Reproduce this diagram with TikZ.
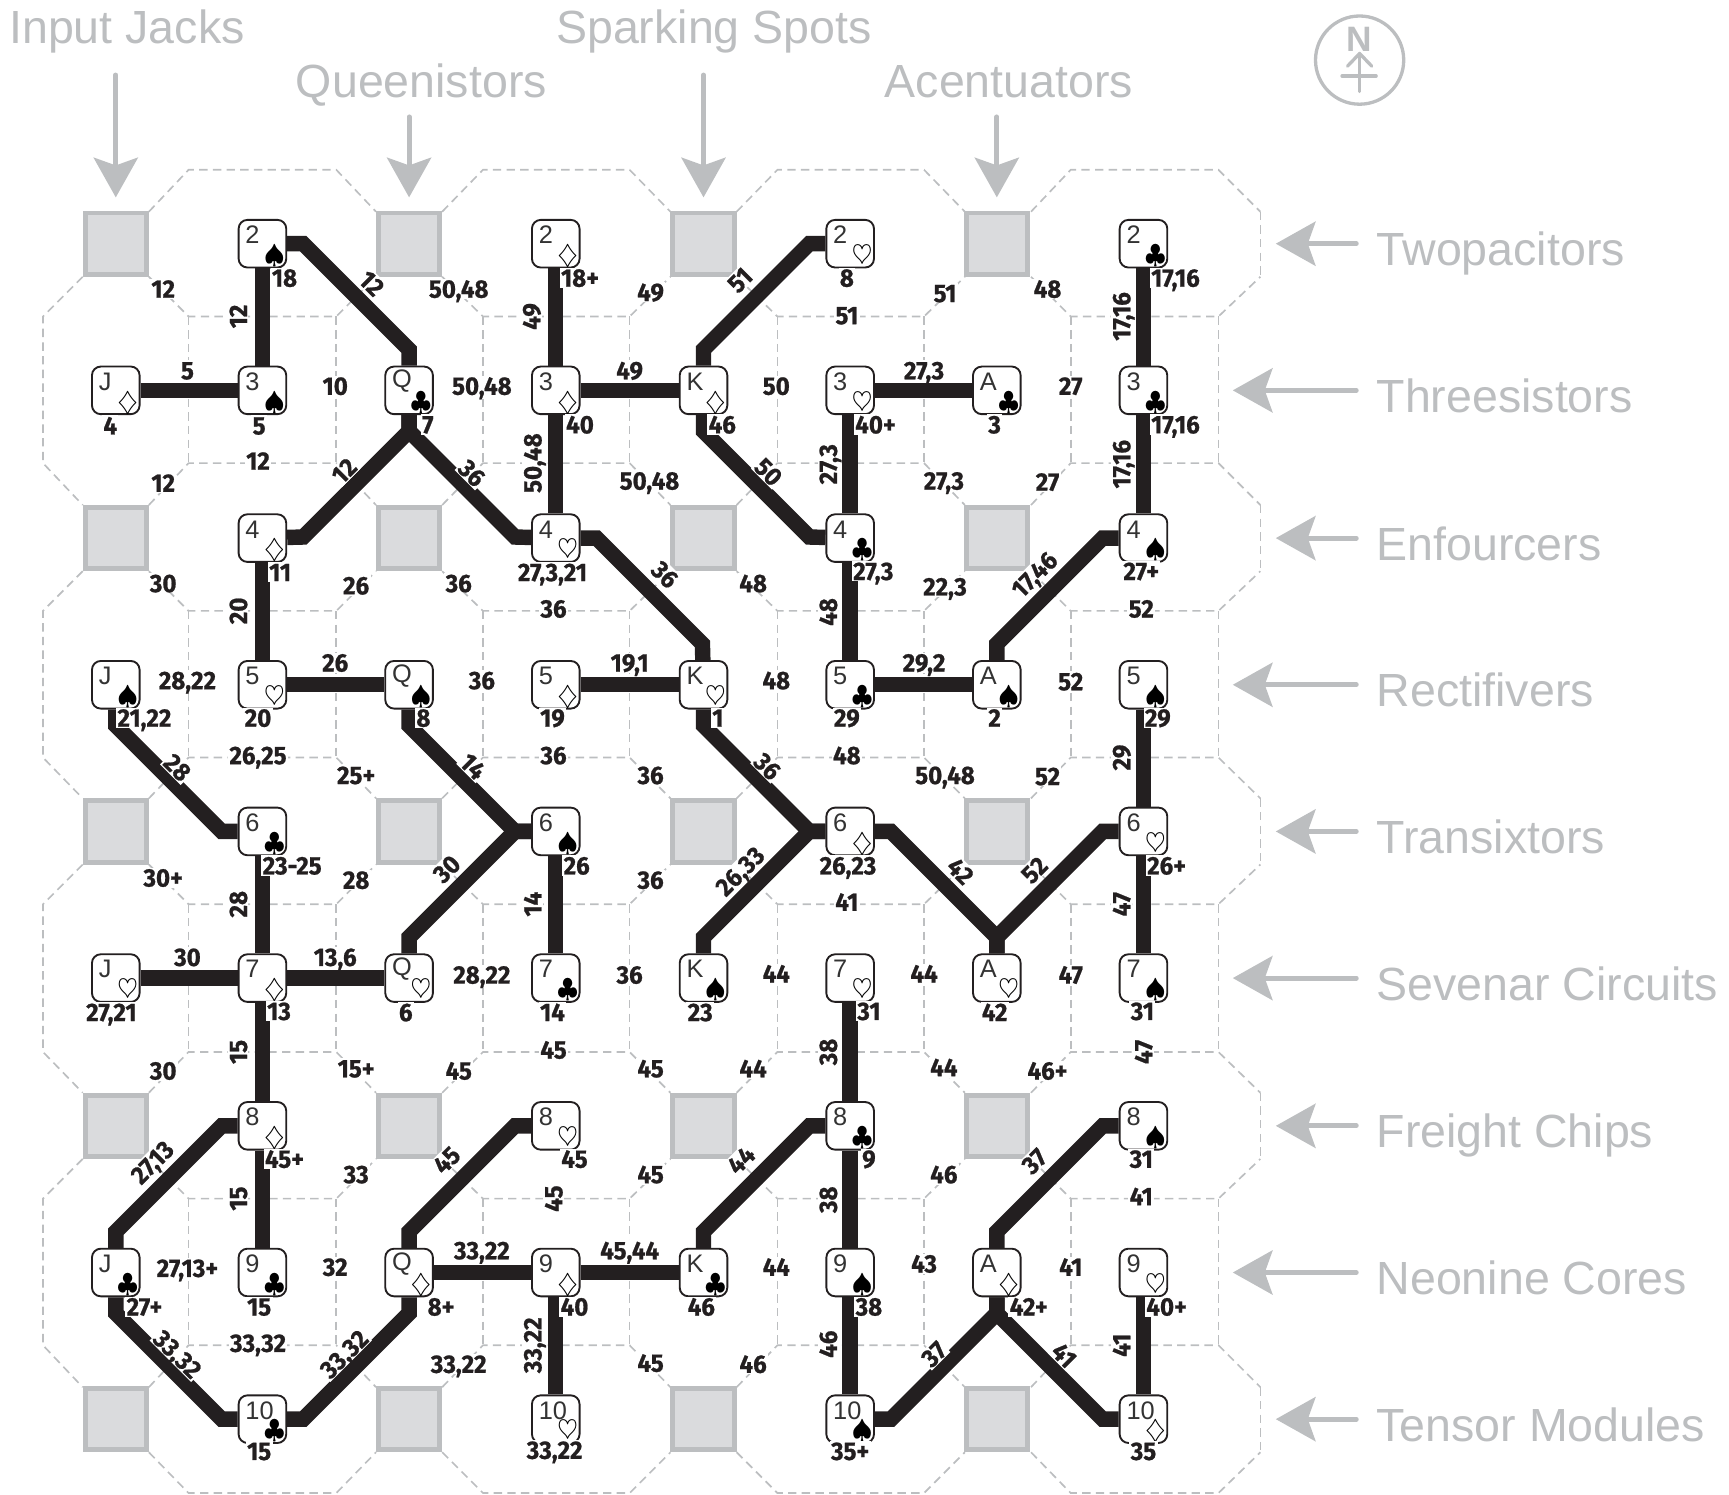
\documentclass[tikz,border=0pt]{standalone}
\usepackage{fontspec}
\setmainfont{Liberation Sans}
\newfontfamily\tagfont[FakeStretch=0.95,BoldFeatures={FakeBold=0.8}]{Fira Sans}
\usetikzlibrary{arrows.meta, backgrounds}
\definecolor{roomgray}{HTML}{BCBEC0}
\definecolor{padgray}{HTML}{DADBDD}
\definecolor{wireblack}{HTML}{231F20}
\tikzset{
  card/.style 2 args={draw=wireblack,fill=white,rounded corners=4pt,minimum size=21.6pt,inner sep=0pt,line width=0.85pt,
    label={[rankmark]center:\makebox[0pt][l]{#1}},label={[suitmark]center:#2}},
  rankmark/.style={inner sep=0pt,xshift=-7.7pt,yshift=4pt,font=\fontsize{11.5}{11.5}\selectfont,text=black!80},
  suitmark/.style={inner sep=0pt,xshift=5.4pt,yshift=-5.6pt,font=\large},
  pad/.style={draw=roomgray,fill=padgray,minimum size=27.8pt,inner sep=0pt,line width=2.2pt},
  wire/.style={draw=wireblack,line width=7pt},
  cell/.style={draw=roomgray,line width=0.75pt,dash pattern=on 3.8pt off 2.4pt},
  pointer/.style={draw=roomgray,fill=roomgray,line width=2.2pt,line cap=round,-{Stealth[length=18pt,width=20pt,inset=3.5pt]}},
  room/.style={anchor=base west,inner sep=0pt,text=roomgray,font=\fontsize{21.1}{21.1}\selectfont},
  tag/.style={fill=white,inner sep=0.6pt,text=wireblack,text height=8pt,text depth=0pt,font=\tagfont\bfseries\fontsize{11.5}{11.5}\selectfont},
  tagv/.style={tag,rotate=90},
  tagu/.style={tag,rotate=45},
  tagd/.style={tag,rotate=-45},
}
\begin{document}
\begin{tikzpicture}[x=0.5pt,y=-0.5pt]
    \useasboundingbox (0,0) rectangle (1568,1355);

    % heads of the columns
    \node[room] (jacks) at (8,39) {Input Jacks};
    \node[room] (queen) at (268,88) {Queenistors};
    \node[room] (spark) at (504,39) {Sparking Spots};
    \node[room] (acent) at (802,88) {Acentuators};

    % heads of the rows
    \node[room] (twop) at (1248,241) {Twopacitors};
    \node[room] (thre) at (1248,374) {Threesistors};
    \node[room] (enfo) at (1248,508) {Enfourcers};
    \node[room] (rect) at (1248,641) {Rectifivers};
    \node[room] (tran) at (1248,774) {Transixtors};
    \node[room] (seve) at (1248,907) {Sevenar Circuits};
    \node[room] (frei) at (1248,1041) {Freight Chips};
    \node[room] (neon) at (1248,1174) {Neonine Cores};
    \node[room] (tens) at (1248,1307) {Tensor Modules};

    % gray pads
    \node[pad] (p00) at (105,221) {};
    \node[pad] (p01) at (371,221) {};
    \node[pad] (p02) at (638,221) {};
    \node[pad] (p03) at (904,221) {};
    \node[pad] (p10) at (105,488) {};
    \node[pad] (p11) at (371,488) {};
    \node[pad] (p12) at (638,488) {};
    \node[pad] (p13) at (904,488) {};
    \node[pad] (p20) at (105,754) {};
    \node[pad] (p21) at (371,754) {};
    \node[pad] (p22) at (638,754) {};
    \node[pad] (p23) at (904,754) {};
    \node[pad] (p30) at (105,1021) {};
    \node[pad] (p31) at (371,1021) {};
    \node[pad] (p32) at (638,1021) {};
    \node[pad] (p33) at (904,1021) {};
    \node[pad] (p40) at (105,1287) {};
    \node[pad] (p41) at (371,1287) {};
    \node[pad] (p42) at (638,1287) {};
    \node[pad] (p43) at (904,1287) {};

    % arrows to the pads
    \coordinate (jacksa) at (105,68);
    \coordinate (queena) at (371,106);
    \coordinate (sparka) at (638,68);
    \coordinate (acenta) at (904,106);
    \draw[pointer,shorten >=6pt] (jacksa) -- (p00);
    \draw[pointer,shorten >=6pt] (queena) -- (p01);
    \draw[pointer,shorten >=6pt] (sparka) -- (p02);
    \draw[pointer,shorten >=6pt] (acenta) -- (p03);

    % arrows of the rows
    \coordinate (twopa) at (1230,221);   \coordinate (twopb) at (1157,221);
    \coordinate (threa) at (1230,354);   \coordinate (threb) at (1118,354);
    \coordinate (enfoa) at (1230,488);   \coordinate (enfob) at (1157,488);
    \coordinate (recta) at (1230,621);   \coordinate (rectb) at (1118,621);
    \coordinate (trana) at (1230,754);   \coordinate (tranb) at (1157,754);
    \coordinate (sevea) at (1230,887);   \coordinate (seveb) at (1118,887);
    \coordinate (freia) at (1230,1021);  \coordinate (freib) at (1157,1021);
    \coordinate (neona) at (1230,1154);  \coordinate (neonb) at (1118,1154);
    \coordinate (tensa) at (1230,1287);  \coordinate (tensb) at (1157,1287);
    \draw[pointer] (twopa) -- (twopb);
    \draw[pointer] (threa) -- (threb);
    \draw[pointer] (enfoa) -- (enfob);
    \draw[pointer] (recta) -- (rectb);
    \draw[pointer] (trana) -- (tranb);
    \draw[pointer] (sevea) -- (seveb);
    \draw[pointer] (freia) -- (freib);
    \draw[pointer] (neona) -- (neonb);
    \draw[pointer] (tensa) -- (tensb);

    % north mark
    \draw[roomgray,line width=1.5pt] (1233,54.5) circle (40);
    \node[inner sep=0pt,text=roomgray,font=\fontsize{16}{16}\selectfont\bfseries] (north) at (1233,35.5) {N};
    \draw[roomgray,line width=1.5pt,line cap=round,line join=round] (1222,60) -- (1233,48.5) -- (1244,60);
    \draw[roomgray,line width=1.5pt,line cap=round] (1233,48.5) -- (1233,83);
    \draw[roomgray,line width=1.5pt,line cap=round] (1217,69) -- (1248,69);

    % cards
    \node[card={2}{$\spadesuit$}] (s2) at (238,221) {};
    \node[card={2}{$\diamondsuit$}] (d2) at (504,221) {};
    \node[card={2}{$\heartsuit$}] (h2) at (771,221) {};
    \node[card={2}{$\clubsuit$}] (c2) at (1037,221) {};
    \node[card={J}{$\diamondsuit$}] (dJ) at (105,354) {};
    \node[card={3}{$\spadesuit$}] (s3) at (238,354) {};
    \node[card={Q}{$\clubsuit$}] (cQ) at (371,354) {};
    \node[card={3}{$\diamondsuit$}] (d3) at (504,354) {};
    \node[card={K}{$\diamondsuit$}] (dK) at (638,354) {};
    \node[card={3}{$\heartsuit$}] (h3) at (771,354) {};
    \node[card={A}{$\clubsuit$}] (cA) at (904,354) {};
    \node[card={3}{$\clubsuit$}] (c3) at (1037,354) {};
    \node[card={4}{$\diamondsuit$}] (d4) at (238,488) {};
    \node[card={4}{$\heartsuit$}] (h4) at (504,488) {};
    \node[card={4}{$\clubsuit$}] (c4) at (771,488) {};
    \node[card={4}{$\spadesuit$}] (s4) at (1037,488) {};
    \node[card={J}{$\spadesuit$}] (sJ) at (105,621) {};
    \node[card={5}{$\heartsuit$}] (h5) at (238,621) {};
    \node[card={Q}{$\spadesuit$}] (sQ) at (371,621) {};
    \node[card={5}{$\diamondsuit$}] (d5) at (504,621) {};
    \node[card={K}{$\heartsuit$}] (hK) at (638,621) {};
    \node[card={5}{$\clubsuit$}] (c5) at (771,621) {};
    \node[card={A}{$\spadesuit$}] (sA) at (904,621) {};
    \node[card={5}{$\spadesuit$}] (s5) at (1037,621) {};
    \node[card={6}{$\clubsuit$}] (c6) at (238,754) {};
    \node[card={6}{$\spadesuit$}] (s6) at (504,754) {};
    \node[card={6}{$\diamondsuit$}] (d6) at (771,754) {};
    \node[card={6}{$\heartsuit$}] (h6) at (1037,754) {};
    \node[card={J}{$\heartsuit$}] (hJ) at (105,887) {};
    \node[card={7}{$\diamondsuit$}] (d7) at (238,887) {};
    \node[card={Q}{$\heartsuit$}] (hQ) at (371,887) {};
    \node[card={7}{$\clubsuit$}] (c7) at (504,887) {};
    \node[card={K}{$\spadesuit$}] (sK) at (638,887) {};
    \node[card={7}{$\heartsuit$}] (h7) at (771,887) {};
    \node[card={A}{$\heartsuit$}] (hA) at (904,887) {};
    \node[card={7}{$\spadesuit$}] (s7) at (1037,887) {};
    \node[card={8}{$\diamondsuit$}] (d8) at (238,1021) {};
    \node[card={8}{$\heartsuit$}] (h8) at (504,1021) {};
    \node[card={8}{$\clubsuit$}] (c8) at (771,1021) {};
    \node[card={8}{$\spadesuit$}] (s8) at (1037,1021) {};
    \node[card={J}{$\clubsuit$}] (cJ) at (105,1154) {};
    \node[card={9}{$\clubsuit$}] (c9) at (238,1154) {};
    \node[card={Q}{$\diamondsuit$}] (dQ) at (371,1154) {};
    \node[card={9}{$\diamondsuit$}] (d9) at (504,1154) {};
    \node[card={K}{$\clubsuit$}] (cK) at (638,1154) {};
    \node[card={9}{$\spadesuit$}] (s9) at (771,1154) {};
    \node[card={A}{$\diamondsuit$}] (dA) at (904,1154) {};
    \node[card={9}{$\heartsuit$}] (h9) at (1037,1154) {};
    \node[card={10}{$\clubsuit$}] (c10) at (238,1287) {};
    \node[card={10}{$\heartsuit$}] (h10) at (504,1287) {};
    \node[card={10}{$\spadesuit$}] (s10) at (771,1287) {};
    \node[card={10}{$\diamondsuit$}] (d10) at (1037,1287) {};

    \begin{scope}[on background layer]
    % dashed cells, strip by strip
    \draw[cell] (135,192) -- (171,154) -- (305,154) -- (341,192) (401,192) -- (438,154) -- (571,154) -- (608,192) (668,192) -- (705,154) -- (838,154) -- (875,192) (935,192) -- (971,154) -- (1105,154) -- (1143,192);
    \draw[cell] (135,251) -- (171,287) -- (305,287) -- (341,251) (401,251) -- (438,287) -- (571,287) -- (608,251) (668,251) -- (705,287) -- (838,287) -- (875,251) (935,251) -- (971,287) -- (1105,287) -- (1143,251);
    \draw[cell] (135,458) -- (171,420) -- (305,420) -- (341,458) (401,458) -- (438,420) -- (571,420) -- (608,458) (668,458) -- (705,420) -- (838,420) -- (875,458) (935,458) -- (971,420) -- (1105,420) -- (1143,458);
    \draw[cell] (135,518) -- (171,554) -- (305,554) -- (341,518) (401,518) -- (438,554) -- (571,554) -- (608,518) (668,518) -- (705,554) -- (838,554) -- (875,518) (935,518) -- (971,554) -- (1105,554) -- (1143,518);
    \draw[cell] (135,724) -- (171,687) -- (305,687) -- (341,724) (401,724) -- (438,687) -- (571,687) -- (608,724) (668,724) -- (705,687) -- (838,687) -- (875,724) (935,724) -- (971,687) -- (1105,687) -- (1143,724);
    \draw[cell] (135,784) -- (171,820) -- (305,820) -- (341,784) (401,784) -- (438,820) -- (571,820) -- (608,784) (668,784) -- (705,820) -- (838,820) -- (875,784) (935,784) -- (971,820) -- (1105,820) -- (1143,784);
    \draw[cell] (135,991) -- (171,954) -- (305,954) -- (341,991) (401,991) -- (438,954) -- (571,954) -- (608,991) (668,991) -- (705,954) -- (838,954) -- (875,991) (935,991) -- (971,954) -- (1105,954) -- (1143,991);
    \draw[cell] (135,1051) -- (171,1087) -- (305,1087) -- (341,1051) (401,1051) -- (438,1087) -- (571,1087) -- (608,1051) (668,1051) -- (705,1087) -- (838,1087) -- (875,1051) (935,1051) -- (971,1087) -- (1105,1087) -- (1143,1051);
    \draw[cell] (135,1258) -- (171,1220) -- (305,1220) -- (341,1258) (401,1258) -- (438,1220) -- (571,1220) -- (608,1258) (668,1258) -- (705,1220) -- (838,1220) -- (875,1258) (935,1258) -- (971,1220) -- (1105,1220) -- (1143,1258);
    \draw[cell] (135,1317) -- (171,1354) -- (305,1354) -- (341,1317) (401,1317) -- (438,1354) -- (571,1354) -- (608,1317) (668,1317) -- (705,1354) -- (838,1354) -- (875,1317) (935,1317) -- (971,1354) -- (1105,1354) -- (1143,1317);

    % dashed sides
    \draw[cell] (171,287) -- (171,420) (305,287) -- (305,420) (438,287) -- (438,420) (571,287) -- (571,420) (705,287) -- (705,420) (838,287) -- (838,420) (971,287) -- (971,420) (1105,287) -- (1105,420);
    \draw[cell] (171,554) -- (171,687) (305,554) -- (305,687) (438,554) -- (438,687) (571,554) -- (571,687) (705,554) -- (705,687) (838,554) -- (838,687) (971,554) -- (971,687) (1105,554) -- (1105,687);
    \draw[cell] (171,820) -- (171,954) (305,820) -- (305,954) (438,820) -- (438,954) (571,820) -- (571,954) (705,820) -- (705,954) (838,820) -- (838,954) (971,820) -- (971,954) (1105,820) -- (1105,954);
    \draw[cell] (171,1087) -- (171,1220) (305,1087) -- (305,1220) (438,1087) -- (438,1220) (571,1087) -- (571,1220) (705,1087) -- (705,1220) (838,1087) -- (838,1220) (971,1087) -- (971,1220) (1105,1087) -- (1105,1220);

    % dashed outer edges
    \draw[cell] (75,251) -- (39,287) -- (39,420) -- (75,458);
    \draw[cell] (75,518) -- (39,554) -- (39,687) -- (75,724);
    \draw[cell] (75,784) -- (39,820) -- (39,954) -- (75,991);
    \draw[cell] (75,1051) -- (39,1087) -- (39,1220) -- (75,1258);
    \draw[cell] (1143,192) -- (1143,251);
    \draw[cell] (1143,458) -- (1143,518);
    \draw[cell] (1143,724) -- (1143,784);
    \draw[cell] (1143,991) -- (1143,1051);
    \draw[cell] (1143,1258) -- (1143,1317);

    % wires
    \draw[wire] (s2) -- (s3);
    \draw[wire] (dJ) -- (s3);
    \draw[wire] (s2) -- ++(37,0) -- ++(96,96) -- (cQ);
    \draw[wire] (d2) -- (d3);
    \draw[wire] (d3) -- (dK);
    \draw[wire] (d3) -- (h4);
    \draw[wire] (h2) -- ++(-37,0) -- ++(-96,96) -- (dK);
    \draw[wire] (dK) -- ++(0,37) -- ++(96,96) -- (c4);
    \draw[wire] (h3) -- (cA);
    \draw[wire] (h3) -- (c4);
    \draw[wire] (c2) -- (c3);
    \draw[wire] (c3) -- (s4);
    \draw[wire] (c4) -- (c5);
    \draw[wire] (c5) -- (sA);
    \draw[wire] (s4) -- ++(-37,0) -- ++(-96,96) -- (sA);
    \draw[wire] (cQ) -- ++(0,37) -- ++(-96,96) -- (d4);
    \draw[wire] (cQ) -- ++(0,37) -- ++(96,96) -- (h4);
    \draw[wire] (h4) -- ++(37,0) -- ++(96,96) -- (hK);
    \draw[wire] (d4) -- (h5);
    \draw[wire] (h5) -- (sQ);
    \draw[wire] (d5) -- (hK);
    \draw[wire] (sJ) -- ++(0,37) -- ++(96,96) -- (c6);
    \draw[wire] (sQ) -- ++(0,37) -- ++(96,96) -- (s6);
    \draw[wire] (hQ) -- ++(0,-37) -- ++(96,-96) -- (s6);
    \draw[wire] (s6) -- (c7);
    \draw[wire] (c6) -- (d7);
    \draw[wire] (hJ) -- (d7);
    \draw[wire] (d7) -- (hQ);
    \draw[wire] (d7) -- (d8);
    \draw[wire] (hK) -- ++(0,37) -- ++(96,96) -- (d6);
    \draw[wire] (sK) -- ++(0,-37) -- ++(96,-96) -- (d6);
    \draw[wire] (d6) -- ++(37,0) -- ++(96,96) -- (hA);
    \draw[wire] (h6) -- ++(-37,0) -- ++(-96,96) -- (hA);
    \draw[wire] (s5) -- (h6);
    \draw[wire] (h6) -- (s7);
    \draw[wire] (d8) -- ++(-37,0) -- ++(-96,96) -- (cJ);
    \draw[wire] (d8) -- (c9);
    \draw[wire] (h8) -- ++(-37,0) -- ++(-96,96) -- (dQ);
    \draw[wire] (dQ) -- (d9);
    \draw[wire] (d9) -- (cK);
    \draw[wire] (d9) -- (h10);
    \draw[wire] (c8) -- ++(-37,0) -- ++(-96,96) -- (cK);
    \draw[wire] (h7) -- (c8);
    \draw[wire] (c8) -- (s9);
    \draw[wire] (s9) -- (s10);
    \draw[wire] (s8) -- ++(-37,0) -- ++(-96,96) -- (dA);
    \draw[wire] (dA) -- ++(0,37) -- ++(-96,96) -- (s10);
    \draw[wire] (dA) -- ++(0,37) -- ++(96,96) -- (d10);
    \draw[wire] (h9) -- (d10);
    \draw[wire] (cJ) -- ++(0,37) -- ++(96,96) -- (c10);
    \draw[wire] (c10) -- ++(37,0) -- ++(96,-96) -- (dQ);
    \end{scope}

    % numbers, top block
    \node[tag] (t1) at (148,262) {12};
    \node[tag] (t2) at (258,252) {18};
    \node[tagd] (t3) at (337,257) {12};
    \node[tag] (t4) at (416,262) {50,48};
    \node[tag] (t5) at (526,252) {18+};
    \node[tagv] (t6) at (482,287) {49};
    \node[tag] (t7) at (590,265) {49};
    \node[tagu] (t8) at (671,254) {51};
    \node[tag] (t9) at (768,252) {8};
    \node[tag] (t10) at (857,266) {51};
    \node[tag] (t11) at (768,286) {51};
    \node[tag] (t12) at (950,262) {48};
    \node[tag] (t13) at (1066,252) {17,16};
    \node[tagv] (t14) at (1017,287) {17,16};
    \node[tagv] (t15) at (216,287) {12};
    \node[tag] (t16) at (170,336) {5};
    \node[tag] (t17) at (100,386) {4};
    \node[tag] (t18) at (235,386) {5};
    \node[tag] (t19) at (304,350) {10};
    \node[tag] (t20) at (388,385) {7};
    \node[tag] (t21) at (437,350) {50,48};
    \node[tag] (t22) at (526,385) {40};
    \node[tag] (t23) at (571,336) {49};
    \node[tag] (t24) at (655,385) {46};
    \node[tag] (t25) at (704,350) {50};
    \node[tag] (t26) at (794,385) {40+};
    \node[tag] (t27) at (838,336) {27,3};
    \node[tag] (t28) at (902,385) {3};
    \node[tag] (t29) at (971,350) {27};
    \node[tag] (t30) at (1066,385) {17,16};
    \node[tag] (t31) at (148,438) {12};
    \node[tag] (t32) at (234,418) {12};
    \node[tagu] (t33) at (312,427) {12};
    \node[tagd] (t34) at (428,429) {36};
    \node[tagv] (t35) at (483,420) {50,48};
    \node[tag] (t36) at (589,436) {50,48};
    \node[tagd] (t37) at (697,428) {50};
    \node[tagv] (t38) at (751,421) {27,3};
    \node[tag] (t39) at (856,436) {27,3};
    \node[tag] (t40) at (950,437) {27};
    \node[tagv] (t41) at (1017,421) {17,16};

    % numbers, second block
    \node[tag] (t42) at (254,519) {11};
    \node[tag] (t43) at (501,519) {27,3,21};
    \node[tag] (t44) at (792,518) {27,3};
    \node[tag] (t45) at (1035,518) {27+};
    \node[tagu] (t46) at (938,521) {17,46};
    \node[tag] (t47) at (148,529) {30};
    \node[tag] (t48) at (323,531) {26};
    \node[tag] (t49) at (416,529) {36};
    \node[tag] (t50) at (502,552) {36};
    \node[tagd] (t51) at (603,521) {36};
    \node[tag] (t52) at (683,529) {48};
    \node[tagv] (t53) at (751,555) {48};
    \node[tag] (t54) at (857,532) {22,3};
    \node[tag] (t55) at (1035,552) {52};
    \node[tagv] (t56) at (216,554) {20};
    \node[tag] (t57) at (170,617) {28,22};
    \node[tag] (t58) at (304,601) {26};
    \node[tag] (t59) at (437,617) {36};
    \node[tag] (t60) at (571,601) {19,1};
    \node[tag] (t61) at (704,617) {48};
    \node[tag] (t62) at (838,601) {29,2};
    \node[tag] (t63) at (971,618) {52};
    \node[tag] (t64) at (131,651) {21,22};
    \node[tag] (t65) at (234,651) {20};
    \node[tag] (t66) at (384,651) {8};
    \node[tag] (t67) at (501,651) {19};
    \node[tag] (t68) at (651,651) {1};
    \node[tag] (t69) at (768,651) {29};
    \node[tag] (t70) at (902,651) {2};
    \node[tag] (t71) at (1050,651) {29};
    \node[tagv] (t72) at (1017,687) {29};
    \node[tagd] (t73) at (161,696) {28};
    \node[tag] (t74) at (234,685) {26,25};
    \node[tag] (t75) at (323,703) {25+};
    \node[tagd] (t76) at (429,695) {14};
    \node[tag] (t77) at (502,685) {36};
    \node[tag] (t78) at (590,703) {36};
    \node[tagd] (t79) at (696,695) {36};
    \node[tag] (t80) at (768,685) {48};
    \node[tag] (t81) at (857,703) {50,48};
    \node[tag] (t82) at (950,704) {52};

    % numbers, third block
    \node[tag] (t83) at (265,785) {23-25};
    \node[tag] (t84) at (523,785) {26};
    \node[tag] (t85) at (769,785) {26,23};
    \node[tag] (t86) at (1058,785) {26+};
    \node[tagd] (t87) at (871,790) {42};
    \node[tagu] (t88) at (938,789) {52};
    \node[tagu] (t89) at (671,790) {26,33};
    \node[tagu] (t90) at (405,788) {30};
    \node[tag] (t91) at (148,796) {30+};
    \node[tag] (t92) at (323,798) {28};
    \node[tag] (t93) at (590,798) {36};
    \node[tagv] (t94) at (483,820) {14};
    \node[tag] (t95) at (768,818) {41};
    \node[tagv] (t96) at (1017,820) {47};
    \node[tagv] (t97) at (216,820) {28};
    \node[tag] (t98) at (170,868) {30};
    \node[tag] (t99) at (304,868) {13,6};
    \node[tag] (t100) at (437,884) {28,22};
    \node[tag] (t101) at (571,884) {36};
    \node[tag] (t102) at (704,883) {44};
    \node[tag] (t103) at (838,883) {44};
    \node[tag] (t104) at (971,884) {47};
    \node[tag] (t105) at (101,918) {27,21};
    \node[tag] (t106) at (253,917) {13};
    \node[tag] (t107) at (368,918) {6};
    \node[tag] (t108) at (501,918) {14};
    \node[tag] (t109) at (635,918) {23};
    \node[tag] (t110) at (788,917) {31};
    \node[tag] (t111) at (902,918) {42};
    \node[tag] (t112) at (1036,917) {31};
    \node[tagv] (t113) at (216,954) {15};
    \node[tag] (t114) at (502,952) {45};
    \node[tagv] (t115) at (751,954) {38};
    \node[tagv] (t116) at (1037,954) {47};
    \node[tag] (t117) at (148,971) {30};
    \node[tag] (t118) at (323,969) {15+};
    \node[tag] (t119) at (416,971) {45};
    \node[tag] (t120) at (590,969) {45};
    \node[tag] (t121) at (683,969) {44};
    \node[tag] (t122) at (856,968) {44};
    \node[tag] (t123) at (950,971) {46+};

    % numbers, bottom block
    \node[tagu] (t124) at (138,1054) {27,13};
    \node[tag] (t125) at (258,1051) {45+};
    \node[tag] (t126) at (323,1065) {33};
    \node[tagu] (t127) at (405,1052) {45};
    \node[tag] (t128) at (521,1051) {45};
    \node[tag] (t129) at (590,1065) {45};
    \node[tagu] (t130) at (672,1052) {44};
    \node[tag] (t131) at (788,1051) {9};
    \node[tag] (t132) at (856,1065) {46};
    \node[tagu] (t133) at (938,1053) {37};
    \node[tag] (t134) at (1035,1051) {31};
    \node[tagv] (t135) at (216,1087) {15};
    \node[tagv] (t136) at (502,1087) {45};
    \node[tagv] (t137) at (751,1088) {38};
    \node[tag] (t138) at (1035,1085) {41};
    \node[tag] (t139) at (170,1150) {27,13+};
    \node[tag] (t140) at (304,1149) {32};
    \node[tag] (t141) at (437,1134) {33,22};
    \node[tag] (t142) at (571,1134) {45,44};
    \node[tag] (t143) at (704,1149) {44};
    \node[tag] (t144) at (838,1146) {43};
    \node[tag] (t145) at (971,1149) {41};
    \node[tag] (t146) at (131,1185) {27+};
    \node[tag] (t147) at (235,1185) {15};
    \node[tag] (t148) at (400,1185) {8+};
    \node[tag] (t149) at (521,1185) {40};
    \node[tag] (t150) at (636,1185) {46};
    \node[tag] (t151) at (788,1185) {38};
    \node[tag] (t152) at (933,1185) {42+};
    \node[tag] (t153) at (1058,1185) {40+};
    \node[tagd] (t154) at (161,1228) {33,32};
    \node[tag] (t155) at (234,1218) {33,32};
    \node[tagu] (t156) at (312,1228) {33,32};
    \node[tagv] (t157) at (483,1220) {33,22};
    \node[tagv] (t158) at (751,1219) {46};
    \node[tagu] (t159) at (847,1228) {37};
    \node[tagd] (t160) at (965,1229) {41};
    \node[tagv] (t161) at (1017,1220) {41};
    \node[tag] (t162) at (416,1237) {33,22};
    \node[tag] (t163) at (590,1236) {45};
    \node[tag] (t164) at (683,1237) {46};
    \node[tag] (t165) at (235,1316) {15};
    \node[tag] (t166) at (503,1315) {33,22};
    \node[tag] (t167) at (771,1316) {35+};
    \node[tag] (t168) at (1037,1316) {35};
\end{tikzpicture}
\end{document}
